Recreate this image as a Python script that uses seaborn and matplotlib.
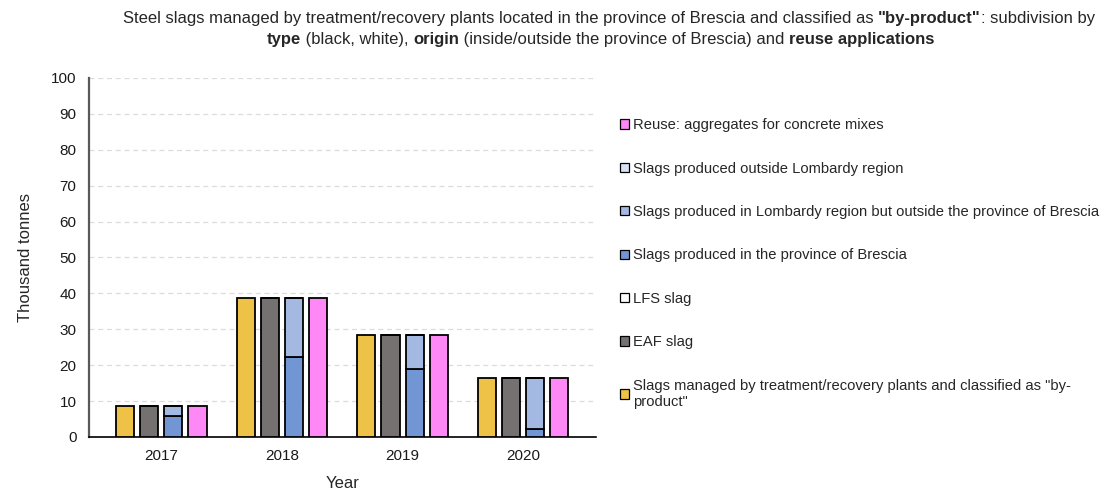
import numpy as np
import matplotlib
matplotlib.use("Agg")
import matplotlib.pyplot as plt
from matplotlib.patches import Patch
import seaborn as sns

sns.set_theme(style="white")
plt.rcParams["font.family"] = ["Liberation Sans", "DejaVu Sans"]

# ---------------------------------------------------------------------------
# Data (thousand tonnes)
# ---------------------------------------------------------------------------
years = ["2017", "2018", "2019", "2020"]
by_product = [8.7, 38.7, 28.4, 16.3]
eaf_slag = [8.7, 38.7, 28.4, 16.3]
lfs_slag = [0.0, 0.0, 0.0, 0.0]
prov_brescia = [5.9, 22.2, 18.9, 2.1]
lombardy_outside_bs = [2.8, 16.5, 9.5, 14.2]
outside_lombardy = [0.0, 0.0, 0.0, 0.0]
reuse_concrete = [8.7, 38.7, 28.4, 16.3]

labels = {
    "reuse": "Reuse: aggregates for concrete mixes",
    "out_lomb": "Slags produced outside Lombardy region",
    "lomb": "Slags produced in Lombardy region but outside the province of Brescia",
    "bs": "Slags produced in the province of Brescia",
    "lfs": "LFS slag",
    "eaf": "EAF slag",
    "byp": 'Slags managed by treatment/recovery plants and classified as "by-\nproduct"',
}
colors = {
    "byp": "#EDC246",
    "eaf": "#767171",
    "lfs": "#FFFFFF",
    "bs": "#7296D4",
    "lomb": "#A4B9E1",
    "out_lomb": "#DAE3F3",
    "reuse": "#FF88F7",
}

# ---------------------------------------------------------------------------
# Figure
# ---------------------------------------------------------------------------
fig = plt.figure(figsize=(11.05, 4.92), dpi=100)
ax = fig.add_axes([0.0805, 0.112, 0.4585, 0.7295])

pos = np.arange(len(years))
slot = 0.2
bw = 0.15


def bar(offset, values, key, bottom=None):
    kw = dict(bottom=bottom) if bottom is not None else {}
    sns.barplot(
        x=pos + offset, y=values, native_scale=True, width=bw,
        color=colors[key], saturation=1, errorbar=None,
        edgecolor="black", linewidth=1.3, ax=ax, zorder=3, **kw,
    )


base_blue = np.array(prov_brescia)
bar(-1.5 * slot, by_product, "byp")
bar(-0.5 * slot, eaf_slag, "eaf")
bar(-0.5 * slot, lfs_slag, "lfs", bottom=np.array(eaf_slag))
bar(0.5 * slot, prov_brescia, "bs")
bar(0.5 * slot, lombardy_outside_bs, "lomb", bottom=base_blue)
bar(0.5 * slot, outside_lombardy, "out_lomb",
    bottom=base_blue + np.array(lombardy_outside_bs))
bar(1.5 * slot, reuse_concrete, "reuse")

ax.set_xlim(-0.6, 3.6)
ax.set_ylim(0, 100)
ax.set_yticks(range(0, 101, 10))
ax.set_xticks(pos)
ax.set_xticklabels(years)
ax.tick_params(axis="both", length=0, labelsize=11, colors="#1a1a1a", pad=9)
ax.yaxis.grid(True, color="#DCDCDC", linestyle=(0, (4, 3)), linewidth=0.9, zorder=0)
ax.set_axisbelow(True)
for s in ["top", "right"]:
    ax.spines[s].set_visible(False)
ax.spines["left"].set_color("#595959")
ax.spines["left"].set_linewidth(1.6)
ax.spines["bottom"].set_color("black")
ax.spines["bottom"].set_linewidth(1.2)
ax.set_xlabel("Year", fontsize=12, labelpad=9)
ax.set_ylabel("Thousand tonnes", fontsize=12, labelpad=13)

# legend (reverse order, like the original)
order = ["reuse", "out_lomb", "lomb", "bs", "lfs", "eaf", "byp"]
handles = [Patch(facecolor=colors[k], edgecolor="black", linewidth=0.9) for k in order]
fig.legend(
    handles, [labels[k] for k in order], loc="upper left",
    bbox_to_anchor=(0.556, 0.772), frameon=False, fontsize=10.6,
    handlelength=0.6, handleheight=0.6, handletextpad=0.25,
    labelspacing=2.0, borderaxespad=0,
)

# title with bold fragments
title_lines = [
    [("Steel slags managed by treatment/recovery plants located in the province of Brescia and classified as ", "normal"),
     ('"by-product"', "bold"), (": subdivision by", "normal")],
    [("type", "bold"), (" (black, white), ", "normal"), ("origin", "bold"),
     (" (inside/outside the province of Brescia) and ", "normal"), ("reuse applications", "bold")],
]
title_centers = [0.551, 0.5435]
renderer = fig.canvas.get_renderer()
for i, parts in enumerate(title_lines):
    y = 0.962 - i * 0.042
    texts = [fig.text(0, y, s, fontsize=12, fontweight=w, va="center", ha="left")
             for s, w in parts]
    widths = [t.get_window_extent(renderer).width / fig.bbox.width for t in texts]
    x = title_centers[i] - sum(widths) / 2
    for t, w in zip(texts, widths):
        t.set_x(x)
        x += w

fig.savefig("out.png", dpi=100)
